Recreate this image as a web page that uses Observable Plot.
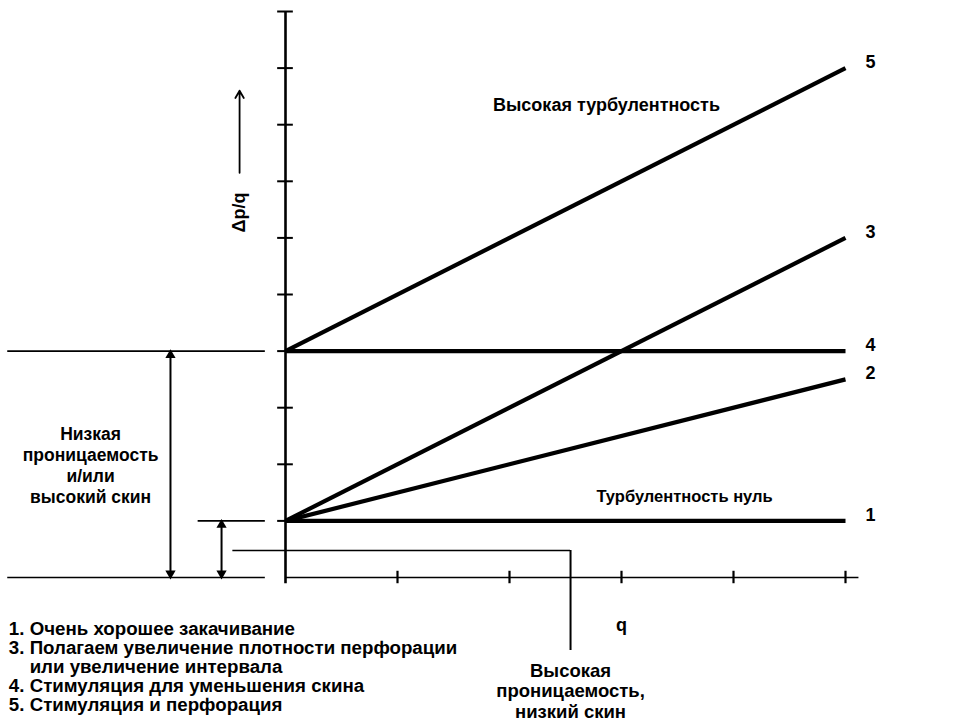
<!DOCTYPE html>
<html>
<head>
<meta charset="utf-8">
<script src="https://cdn.jsdelivr.net/npm/d3@7"></script>
<script src="https://cdn.jsdelivr.net/npm/@observablehq/plot@0.6"></script>
<style>
  html, body { margin: 0; padding: 0; background: #fff; }
  svg { display: block; }
</style>
</head>
<body>
<div id="chart"></div>
<script>
// ---- data ----
const seriesNames = ["1", "2", "3", "4", "5"];
const qStart = [0, 0, 0, 0, 0];
const qEnd = [5, 5, 5, 5, 5];
const dpStart = [1, 1, 1, 4, 4];
const dpEnd = [1, 3.5, 6, 4, 9];

const yTickValues = [1, 2, 3, 4, 5, 6, 7, 8, 9, 10];
const xTickValues = [1, 2, 3, 4, 5];

const legendLines = [
  "1. Очень хорошее закачивание",
  "3. Полагаем увеличение плотности перфорации",
  "    или увеличение интервала",
  "4. Стимуляция для уменьшения скина",
  "5. Стимуляция и перфорация"
];
const labelHighTurb = "Высокая турбулентность";
const labelZeroTurb = "Турбулентность нуль";
const labelLowPerm = "Низкая\nпроницаемость\nи/или\nвысокий скин";
const labelHighPerm = "Высокая\nпроницаемость,\nнизкий скин";
const yLabel = "Δp/q";
const xLabel = "q";

// ---- derived tables ----
const lines = seriesNames.flatMap((s, i) => [
  {s, q: qStart[i], dp: dpStart[i]},
  {s, q: qEnd[i], dp: dpEnd[i]}
]);
const ends = seriesNames.map((s, i) => ({s, q: qEnd[i], dp: dpEnd[i]}));

const font = "'Liberation Sans', Arial, Helvetica, sans-serif";

const chart = Plot.plot({
  width: 955,
  height: 725,
  marginLeft: 285,
  marginRight: 110,
  marginTop: 11,
  marginBottom: 148,
  x: {domain: [0, 5], axis: null},
  y: {domain: [0, 10], axis: null},
  style: {fontFamily: font, fontSize: "18px", fontWeight: "bold", background: "#fff", color: "#000", overflow: "visible"},
  marks: [
    // y axis line and crossing ticks
    Plot.ruleX([0], {y1: -0.11, y2: 10, stroke: "#000", strokeWidth: 2.6}),
    Plot.ruleY(yTickValues, {x1: -0.07, x2: 0.07, stroke: "#000", strokeWidth: 2}),
    // x axis line and crossing ticks
    Plot.ruleY([0], {x1: 0, x2: 5.12, stroke: "#000", strokeWidth: 1.6}),
    Plot.ruleX(xTickValues, {y1: -0.11, y2: 0.11, stroke: "#000", strokeWidth: 2.2}),

    // left reference lines
    Plot.ruleY([4, 0], {x1: -2.48, x2: -0.18, stroke: "#000", strokeWidth: 1.6}),
    Plot.ruleY([1], {x1: -0.78, x2: -0.18, stroke: "#000", strokeWidth: 1.8}),
    Plot.ruleY([0.477], {x1: -0.47, x2: 2.545, stroke: "#000", strokeWidth: 1.4}),
    Plot.ruleX([2.545], {y1: 0.477, y2: -1.29, stroke: "#000", strokeWidth: 2}),

    // double arrows
    Plot.ruleX([-1.027], {y1: 0.1, y2: 3.9, stroke: "#000", strokeWidth: 2}),
    Plot.ruleX([-0.571], {y1: 0.1, y2: 0.9, stroke: "#000", strokeWidth: 2}),
    Plot.dot([{x: -1.027, y: 3.93}, {x: -0.571, y: 0.93}], {x: "x", y: "y", symbol: "triangle", r: 3.8, fill: "#000", stroke: "none"}),
    Plot.dot([{x: -1.027, y: 0.07}, {x: -0.571, y: 0.07}], {x: "x", y: "y", symbol: "triangle", r: 3.8, fill: "#000", stroke: "none", rotate: 180}),

    // data lines
    Plot.line(lines, {x: "q", y: "dp", z: "s", stroke: "#000", strokeWidth: 4.2, strokeLinecap: "butt"}),
    Plot.text(ends, {x: "q", y: "dp", text: "s", dx: 20, dy: -6, textAnchor: "start", fill: "#000"}),

    // annotations
    Plot.text([labelHighTurb], {x: 2.866, y: 8.35, text: d => d, textAnchor: "middle", fill: "#000"}),
    Plot.text([labelZeroTurb], {x: 4.35, y: 1.42, text: d => d, textAnchor: "end", fontSize: 16.5, fill: "#000"}),
    Plot.text([labelLowPerm], {x: -1.74, y: 2.0, text: d => d, textAnchor: "middle", lineHeight: 1.2, fontSize: 17.5, fill: "#000"}),
    Plot.text([labelHighPerm], {x: 2.545, y: -1.5, text: d => d, textAnchor: "middle", lineAnchor: "top", lineHeight: 1.1, fontSize: 18.5, fill: "#000"}),
    Plot.text([xLabel], {x: 3.0, y: -0.85, text: d => d, textAnchor: "middle", fill: "#000"}),

    // y label with arrow
    Plot.text([yLabel], {x: -0.41, y: 6.45, text: d => d, rotate: -90, textAnchor: "middle", fill: "#000"}),
    Plot.arrow([{x: -0.41, y1: 7.15, y2: 8.6}], {x1: "x", x2: "x", y1: "y1", y2: "y2", stroke: "#000", strokeWidth: 1.8, headLength: 7}),

    // legend
    Plot.text([legendLines.join("\n")], {x: -2.47, y: -0.78, text: d => d, textAnchor: "start", lineAnchor: "top", lineHeight: 1.02, fontSize: 18.7, fill: "#000"})
  ]
});
document.getElementById("chart").appendChild(chart);
</script>
</body>
</html>
